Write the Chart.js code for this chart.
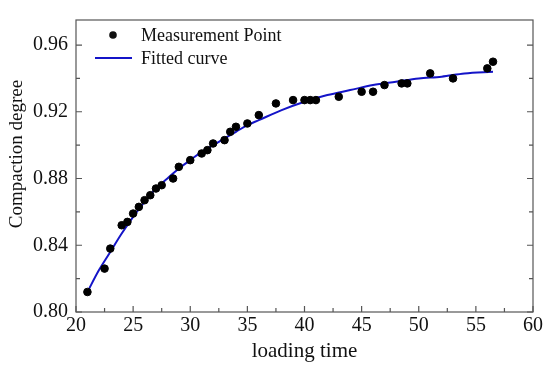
<!DOCTYPE html>
<html>
<head>
<meta charset="utf-8">
<script src="https://cdn.jsdelivr.net/npm/chart.js@4.4.0/dist/chart.umd.min.js"></script>
<style>
  html, body { margin: 0; padding: 0; background: #fff; }
  #wrap { width: 550px; height: 372px; }
</style>
</head>
<body>
<div id="wrap"><canvas id="c"></canvas></div>
<script>
// measured points (loading time, compaction degree)
const measTime = [21, 22.5, 23, 24, 24.5, 25, 25.5, 26, 26.5, 27, 27.5, 28.5, 29, 30,
  31, 31.5, 32, 33, 33.5, 34, 35, 36, 37.5, 39, 40, 40.5, 41, 43, 45, 46, 47, 48.5, 49,
  51, 53, 56, 56.5];
const measDegree = [0.812, 0.826, 0.838, 0.852, 0.854, 0.859, 0.863, 0.867, 0.870, 0.874,
  0.876, 0.880, 0.887, 0.891, 0.895, 0.897, 0.901, 0.903, 0.908, 0.911, 0.913, 0.918,
  0.925, 0.927, 0.927, 0.927, 0.927, 0.929, 0.932, 0.932, 0.936, 0.937, 0.937, 0.943,
  0.940, 0.946, 0.950];

// fitted curve
const fitTime = [21, 22, 23, 24, 25, 26, 27, 28, 29, 30, 31, 32, 33, 34, 35, 36, 38, 40,
  42, 44, 46, 48, 50, 52, 54, 56.5];
const fitDegree = [0.812, 0.825, 0.836, 0.847, 0.857, 0.866, 0.874, 0.880, 0.886, 0.891,
  0.896, 0.900, 0.904, 0.908, 0.912, 0.915, 0.921, 0.926, 0.930, 0.933, 0.936, 0.938,
  0.940, 0.941, 0.943, 0.944];

const xTicks = [20, 25, 30, 35, 40, 45, 50, 55, 60];
const yTicks = [0.80, 0.84, 0.88, 0.92, 0.96];

const FONT = '"Liberation Serif", "Times New Roman", serif';
const AXIS = '#555';
const Y_TITLE = 'Compaction degree';

const toXY = (xs, ys) => xs.map((x, i) => ({ x, y: ys[i] }));

// border + inward ticks (left, right, bottom), y title, legend inside plot
const framePlugin = {
  id: 'frame',
  afterDraw(chart) {
    const { ctx, chartArea: a, scales } = chart;
    const sx = scales.x, sy = scales.y;
    ctx.save();
    ctx.strokeStyle = AXIS;
    ctx.lineWidth = 1.2;
    ctx.strokeRect(a.left, a.top, a.right - a.left, a.bottom - a.top);
    ctx.beginPath();
    for (let v = 20; v <= 60; v += 2.5) {
      const px = sx.getPixelForValue(v);
      const len = v % 5 === 0 ? 6 : 4;
      ctx.moveTo(px, a.bottom); ctx.lineTo(px, a.bottom - len);
    }
    for (let v = 0.80; v <= 0.975; v += 0.02) {
      const py = sy.getPixelForValue(v);
      const major = Math.round(v * 100) % 4 === 0;
      const len = major ? 6 : 4;
      ctx.moveTo(a.left, py); ctx.lineTo(a.left + len, py);
      ctx.moveTo(a.right, py); ctx.lineTo(a.right - len, py);
    }
    ctx.stroke();

    // y axis title
    ctx.fillStyle = '#111';
    ctx.font = '19px ' + FONT;
    ctx.textAlign = 'center';
    ctx.textBaseline = 'middle';
    ctx.save();
    ctx.translate(17, 154);
    ctx.rotate(-Math.PI / 2);
    ctx.fillText(Y_TITLE, 0, 0);
    ctx.restore();

    // legend
    const ds = chart.data.datasets;
    ctx.font = '18px ' + FONT;
    ctx.textAlign = 'left';
    ctx.beginPath();
    ctx.arc(113, 35, 3.8, 0, Math.PI * 2);
    ctx.fill();
    ctx.fillText(ds[0].label, 141, 36);
    ctx.strokeStyle = ds[1].borderColor;
    ctx.lineWidth = 2;
    ctx.beginPath();
    ctx.moveTo(95, 58); ctx.lineTo(132, 58);
    ctx.stroke();
    ctx.fillText(ds[1].label, 141, 59);
    ctx.restore();
  }
};

new Chart(document.getElementById('c'), {
  type: 'scatter',
  data: {
    datasets: [
      {
        label: 'Measurement Point',
        data: toXY(measTime, measDegree),
        backgroundColor: '#000',
        borderColor: '#000',
        pointRadius: 3.8,
        pointHoverRadius: 3.8,
        order: 0
      },
      {
        label: 'Fitted curve',
        data: toXY(fitTime, fitDegree),
        showLine: true,
        borderColor: '#1414c8',
        borderWidth: 2,
        pointRadius: 0,
        tension: 0.4,
        cubicInterpolationMode: 'monotone',
        order: 1
      }
    ]
  },
  options: {
    responsive: true,
    maintainAspectRatio: false,
    animation: false,
    layout: { padding: { top: 12, right: 17, left: 0, bottom: 0 } },
    plugins: { legend: { display: false }, tooltip: { enabled: false } },
    scales: {
      x: {
        type: 'linear',
        min: 20, max: 60,
        afterBuildTicks: (s) => { s.ticks = xTicks.map(v => ({ value: v })); },
        afterFit: (s) => { s.height = 60; },
        grid: { display: false, drawTicks: false },
        border: { display: false },
        ticks: { color: '#111', padding: 2, font: { family: FONT, size: 20 }, maxRotation: 0 },
        title: { display: true, text: 'loading time', color: '#111',
          font: { family: FONT, size: 21 }, padding: { top: 0, bottom: 8 } }
      },
      y: {
        type: 'linear',
        min: 0.80, max: 0.975,
        afterBuildTicks: (s) => { s.ticks = yTicks.map(v => ({ value: v })); },
        afterFit: (s) => { s.width = 76; },
        grid: { display: false, drawTicks: false },
        border: { display: false },
        ticks: { color: '#111', padding: 8, font: { family: FONT, size: 20 },
          callback: (v) => v.toFixed(2) }
      }
    }
  },
  plugins: [framePlugin]
});
</script>
</body>
</html>
